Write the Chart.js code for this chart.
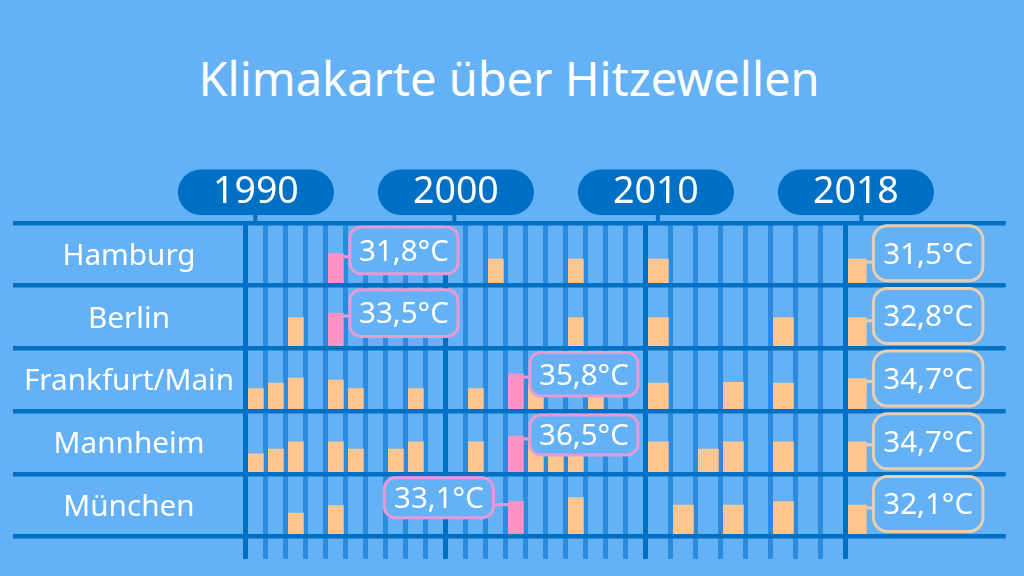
<!DOCTYPE html>
<html lang="de">
<head>
<meta charset="utf-8">
<title>Klimakarte über Hitzewellen</title>
<style>
  html, body { margin: 0; padding: 0; background: #64b2f5; }
  #wrap { position: relative; width: 1024px; height: 576px; overflow: hidden; }
  h1 {
    position: absolute; left: 0; top: 46px; width: 1018px; margin: 0;
    text-align: center; color: #fff; font: 400 47px "Noto Sans", sans-serif;
  }
  canvas { position: absolute; left: 0; top: 0; }
</style>
</head>
<body>
<div id="wrap">
  <h1>Klimakarte über Hitzewellen</h1>
  <canvas id="chart" width="1024" height="576"></canvas>
</div>
<script src="https://cdn.jsdelivr.net/npm/chart.js@4/dist/chart.umd.min.js"></script>
<script>
// ---- Data ----
// Rows run top to bottom. Heights have no printed scale: they are read in row units.
const cities = ["Hamburg", "Berlin", "Frankfurt/Main", "Mannheim", "München"];
const allYears = [1990, 1991, 1992, 1993, 1994, 1995, 1996, 1997, 1998, 1999,
                  2000, 2001, 2002, 2003, 2004, 2005, 2006, 2007, 2008, 2009,
                  2010, 2011, 2012, 2013, 2014, 2015, 2016, 2017, 2018];
const labelledYears = [1990, 2000, 2010, 2018];

const hamburgYears = [1994, 2002, 2006, 2010, 2018];
const hamburgHeights = [32, 26.7, 26.7, 26.7, 26.7];
const berlinYears = [1992, 1994, 2006, 2010, 2015, 2018];
const berlinHeights = [30.7, 35.4, 30.7, 30.7, 30.7, 30.7];
const frankfurtYears = [1990, 1991, 1992, 1994, 1995, 1998, 2001, 2003, 2004, 2007, 2010, 2013, 2015, 2018];
const frankfurtHeights = [22.4, 28, 33, 31, 22.4, 22.4, 22.4, 37, 28, 28, 28, 28.8, 28, 32.6];
const mannheimYears = [1990, 1991, 1992, 1994, 1995, 1997, 1998, 2001, 2003, 2004, 2005, 2006, 2010, 2012, 2013, 2015, 2018];
const mannheimHeights = [20, 24.8, 32, 32, 24.8, 24.8, 32, 32, 37.8, 32, 32, 32, 32, 24.8, 32, 32, 32];
const muenchenYears = [1992, 1994, 2003, 2006, 2011, 2013, 2015, 2018];
const muenchenHeights = [23.5, 30.8, 34.8, 38.8, 31.5, 31.5, 34.8, 31.5];

const recordYears = [1994, 1994, 2003, 2003, 2003];   // pink bar in each row
const recordLabels = ["31,8°C", "33,5°C", "35,8°C", "36,5°C", "33,1°C"];
const latestLabels = ["31,5°C", "32,8°C", "34,7°C", "34,7°C", "32,1°C"];

const rowYears = [hamburgYears, berlinYears, frankfurtYears, mannheimYears, muenchenYears];
const rowHeights = [hamburgHeights, berlinHeights, frankfurtHeights, mannheimHeights, muenchenHeights];

// ---- Colours ----
const BG = "#64b2f5";
const DARK = "#0070c4";
const THIN = "#2b8cdf";
const ORANGE = "#ffc68f";
const PINK = "#ff93c6";
const PINK_EDGE = "#e79ad6";
const BEIGE_EDGE = "#e8cfb0";

const ROW_SPAN = 62.7;
const FONT = '"Noto Sans", sans-serif';

// The axis is stretched after 2010 (one year = 1.25 of the earlier width).
function pos(year) {
  return year <= 2010 ? year - 1990 : 20 + (year - 2010) * 1.25;
}
function rowBase(row) {
  return (cities.length - 1 - row) * ROW_SPAN;
}

// Bar thickness is per dataset, so the three column widths get a dataset each.
function barsFor(from, to, centre) {
  const points = [];
  cities.forEach((_, row) => {
    rowYears[row].forEach((year, i) => {
      if (year < from || year > to) return;
      points.push({
        x: pos(year) + centre,
        y: [rowBase(row), rowBase(row) + rowHeights[row][i]],
        record: year === recordYears[row],
      });
    });
  });
  return points;
}

function barDataset(from, to, centre, thickness) {
  return {
    data: barsFor(from, to, centre),
    barThickness: thickness,
    grouped: false,
    backgroundColor: ctx => (ctx.raw && ctx.raw.record ? PINK : ORANGE),
  };
}

function roundRect(ctx, x, y, w, h, r) {
  ctx.beginPath();
  ctx.roundRect(x, y, w, h, r);
}

// ---- Pills above the axis and city names ----
const frame = {
  id: "frame",
  beforeDatasetsDraw(chart) {
    const { ctx, scales: { x, y } } = chart;
    const stubOffset = [9.5, 8.5, 12, 15.5];
    ctx.save();
    labelledYears.forEach((year, i) => {
      const cx = x.getPixelForValue(pos(year) + 0.5);
      ctx.fillStyle = DARK;
      ctx.fillRect(x.getPixelForValue(pos(year)) + stubOffset[i] - 2, 213, 4, 9);
      roundRect(ctx, cx - 78, 169.5, 156, 45.5, 22.7);
      ctx.fill();
      ctx.fillStyle = "#fff";
      ctx.font = "37.5px " + FONT;
      ctx.textAlign = "center";
      ctx.textBaseline = "middle";
      ctx.fillText(String(year), cx, 192);
    });
    ctx.font = "29.7px " + FONT;
    cities.forEach((city, row) => {
      ctx.fillText(city, 129, y.getPixelForValue(rowBase(row) + ROW_SPAN / 2) + 2);
    });
    ctx.restore();
  },
  // Callouts sit on top of everything, they cover some of the bars.
  afterDraw(chart) {
    const { ctx, scales: { x, y } } = chart;
    const recordBottom = [12, 12, 15, 18.8, 18.8];
    ctx.save();
    ctx.lineWidth = 3;
    ctx.textAlign = "center";
    ctx.textBaseline = "middle";
    ctx.font = "29.5px " + FONT;

    function callout(left, top, bottom, width, edge, radius, text, joinFrom, joinTo, joinY) {
      ctx.strokeStyle = edge;
      ctx.beginPath();
      ctx.moveTo(joinFrom, joinY);
      ctx.lineTo(joinTo, joinY);
      ctx.stroke();
      ctx.fillStyle = BG;
      roundRect(ctx, left, top, width, bottom - top, radius);
      ctx.fill();
      ctx.stroke();
      ctx.fillStyle = "#fff";
      ctx.fillText(text, left + width / 2, (top + bottom) / 2 + 2);
    }

    cities.forEach((_, row) => {
      const base = y.getPixelForValue(rowBase(row));
      // Record year: box to the right of the bar, except München where it is to the left.
      const yr = recordYears[row];
      const h = rowHeights[row][rowYears[row].indexOf(yr)];
      const joinY = y.getPixelForValue(rowBase(row) + h) + 3;
      const barLeft = x.getPixelForValue(pos(yr)) + 2.5;
      const barRight = barLeft + 15;
      const onLeft = row === cities.length - 1;
      const left = onLeft ? barLeft - 15 - 109 : barRight + 6.5;
      callout(left, base - 58.7, base - recordBottom[row], onLeft ? 109 : 108, PINK_EDGE, 11, recordLabels[row],
        onLeft ? left + 109 : barRight, onLeft ? barLeft : left, joinY);

      // Latest year: always the same column on the right.
      const lastH = rowHeights[row][rowHeights[row].length - 1];
      const lastRight = x.getPixelForValue(pos(2018)) + 20.5;
      callout(lastRight + 7, base - 60, base - 5, 109.5, BEIGE_EDGE, 14, latestLabels[row],
        lastRight, lastRight + 7, y.getPixelForValue(rowBase(row) + lastH) + 3);
    });
    ctx.restore();
  },
};

new Chart(document.getElementById("chart"), {
  type: "bar",
  data: {
    datasets: [
      barDataset(1990, 2009, 0.5, 15),
      barDataset(2010, 2017, 0.625, 20),
      barDataset(2018, 2018, 0.575, 18),
    ],
  },
  options: {
    animation: false,
    responsive: false,
    events: [],
    layout: { padding: { left: 13.3, right: 18.3, top: 223, bottom: 17 } },
    plugins: { legend: { display: false }, tooltip: { enabled: false }, title: { display: false } },
    scales: {
      x: {
        type: "linear",
        offset: false,
        min: -11.63,
        max: 37.99,
        border: { display: false },
        ticks: { display: false, autoSkip: false },
        afterBuildTicks: axis => { axis.ticks = allYears.map(year => ({ value: pos(year) })); },
        grid: {
          offset: false,
          drawTicks: false,
          color: ctx => (labelledYears.some(year => pos(year) === ctx.tick.value) ? DARK : THIN),
          lineWidth: 5,
        },
      },
      y: {
        min: -22.5,
        max: cities.length * ROW_SPAN,
        border: { display: false },
        ticks: { display: false, autoSkip: false },
        afterBuildTicks: axis => {
          axis.ticks = [0, 1, 2, 3, 4, 5].map(i => ({ value: i * ROW_SPAN }));
        },
        grid: { drawTicks: false, color: DARK, lineWidth: 4.5, z: 1 },
      },
    },
  },
  plugins: [frame],
});
</script>
</body>
</html>
